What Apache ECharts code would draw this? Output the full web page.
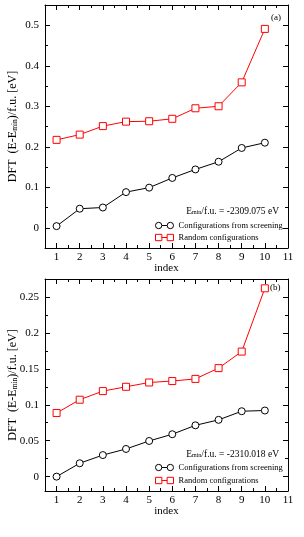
<!DOCTYPE html>
<html><head><meta charset="utf-8">
<script src="https://cdn.jsdelivr.net/npm/echarts@6/dist/echarts.min.js"></script>
<style>html,body{margin:0;padding:0;background:#fff}#c{width:304px;height:537px}</style>
</head><body><div id="c"></div>
<script>
const indexValues = [1,2,3,4,5,6,7,8,9,10];
const screeningA = [0.004,0.047,0.050,0.088,0.099,0.123,0.144,0.163,0.197,0.210];
const randomA    = [0.217,0.230,0.251,0.262,0.263,0.269,0.295,0.300,0.359,0.491];
const screeningB = [0.000,0.0186,0.030,0.0385,0.0496,0.059,0.0714,0.079,0.091,0.092];
const randomB    = [0.0886,0.107,0.119,0.125,0.131,0.133,0.136,0.151,0.174,0.262];
const xTicks = [1,2,3,4,5,6,7,8,9,10,11];
const xMinor = [1.5,2.5,3.5,4.5,5.5,6.5,7.5,8.5,9.5,10.5];
const yTicksA = [0,0.1,0.2,0.3,0.4,0.5];
const yMinorA = [-0.05,0.05,0.15,0.25,0.35,0.45,0.55];
const yTicksB = [0,0.05,0.1,0.15,0.2,0.25];
const yMinorB = [0.025,0.075,0.125,0.175,0.225,0.275];
const seriesNames = ['Configurations from screening','Random configurations'];
const eminA = '-2309.075 eV';
const eminB = '-2310.018 eV';
const FONT = 'Liberation Serif';

const chart = echarts.init(document.getElementById('c'), null, {renderer:'canvas'});
const grids = [
  {left:45, top:5, width:243, height:243, containLabel:false, outerBoundsMode:'none'},
  {left:45, top:279, width:243, height:212, containLabel:false, outerBoundsMode:'none'}
];
const xAxes = [], yAxes = [];
function addX(gi, pos, ticks, len, labels, main){
  xAxes.push({type:'value', gridIndex:gi, position:pos, min:0.5, max:11,
    axisLine:{show:main, onZero:false, lineStyle:{color:'#000',width:1}},
    splitLine:{show:false},
    axisTick:{show:true, inside:true, length:len, customValues:ticks, lineStyle:{color:'#000'}},
    axisLabel:{show:labels, customValues:ticks, color:'#000', fontFamily:FONT, fontSize:11, margin:4},
    name: labels ? 'index' : '', nameLocation:'middle', nameGap:15, nameMoveOverlap:false,
    nameTextStyle:{color:'#000', fontFamily:FONT, fontSize:11}
  });
}
function addY(gi, pos, min, max, ticks, len, labels, main, fmt){
  yAxes.push({type:'value', gridIndex:gi, position:pos, min:min, max:max,
    axisLine:{show:main, onZero:false, lineStyle:{color:'#000',width:1}},
    splitLine:{show:false},
    axisTick:{show:true, inside:true, length:len, customValues:ticks, lineStyle:{color:'#000'}},
    axisLabel:{show:labels, customValues:ticks, color:'#000', fontFamily:FONT, fontSize:11, margin:6, formatter:fmt},
    name: labels ? '{n|DFT  (E-E}{s|min}{n|)/f.u. [eV]}' : '', nameLocation:'middle', nameGap:labels ? 26 : 0, nameRotate:90,
    nameMoveOverlap:false,
    nameTextStyle:{rich:{n:{color:'#000', fontFamily:FONT, fontSize:12}, s:{color:'#000', fontFamily:FONT, fontSize:7.5, verticalAlign:'bottom', padding:[4,0,0,0]}}}
  });
}
const fmt = v => String(+v.toFixed(3));
addX(0,'bottom',xTicks,5,true,true);
addX(0,'bottom',xMinor,3,false,false);
addX(0,'top',xTicks,5,false,true);
addX(0,'top',xMinor,3,false,false);
addY(0,'left',-0.05,0.55,yTicksA,5,true,true,fmt);
addY(0,'left',-0.05,0.55,yMinorA,3,false,false);
addY(0,'right',-0.05,0.55,yTicksA,5,false,true);
addY(0,'right',-0.05,0.55,yMinorA,3,false,false);
addX(1,'bottom',xTicks,5,true,true);
addX(1,'bottom',xMinor,3,false,false);
addX(1,'top',xTicks,5,false,true);
addX(1,'top',xMinor,3,false,false);
addY(1,'left',-0.02,0.275,yTicksB,5,true,true,fmt);
addY(1,'left',-0.02,0.275,yMinorB,3,false,false);
addY(1,'right',-0.02,0.275,yTicksB,5,false,true);
addY(1,'right',-0.02,0.275,yMinorB,3,false,false);

function pairs(ys){ return indexValues.map((x,i)=>[x, ys[i]]); }
function mk(name, data, xi, yi, color, sym){
  return {type:'line', name:name, xAxisIndex:xi, yAxisIndex:yi, data:pairs(data),
    symbol:sym, symbolSize:7, showSymbol:true, animation:false,
    lineStyle:{color:color, width:1}, itemStyle:{color:'#fff', borderColor:color, borderWidth:1}};
}
const series = [
  mk(seriesNames[0], screeningA, 0, 0, '#000', 'circle'),
  mk(seriesNames[1], randomA, 0, 0, '#ff0000', 'rect'),
  mk(seriesNames[0], screeningB, 4, 4, '#000', 'circle'),
  mk(seriesNames[1], randomB, 4, 4, '#ff0000', 'rect')
];
const circIcon = 'path://M0.5,3.5 A3,3 0 1,1 6.5,3.5 A3,3 0 1,1 0.5,3.5 Z M6.5,3.5 L11.5,3.5 M11.5,3.5 A3,3 0 1,1 17.5,3.5 A3,3 0 1,1 11.5,3.5 Z';
const rectIcon = 'path://M0.5,0.5 L6.5,0.5 L6.5,6.5 L0.5,6.5 Z M6.5,3.5 L11.5,3.5 M11.5,0.5 L17.5,0.5 L17.5,6.5 L11.5,6.5 Z';
function legendFor(top, gap){
  return {orient:'vertical', left:155, top:top, padding:0, itemWidth:18, itemHeight:7, itemGap:gap, selectedMode:false,
    textStyle:{color:'#000', fontFamily:FONT, fontSize:8.5},
    data:[
      {name:seriesNames[0], icon:circIcon, itemStyle:{color:'#fff', borderColor:'#000', borderWidth:1}},
      {name:seriesNames[1], icon:rectIcon, itemStyle:{color:'#fff', borderColor:'#ff0000', borderWidth:1}}
    ]};
}
const emRich = {n:{fontFamily:FONT,fontSize:9.5,fill:'#000'}, s:{fontFamily:FONT,fontSize:6,fill:'#000',padding:[3,0,0,0]}};
chart.setOption({
  animation:false,
  grid: grids,
  xAxis: xAxes,
  yAxis: yAxes,
  series: series,
  legend: [legendFor(221, 3), legendFor(463, 4)],
  graphic: [
    {type:'text', left:271, top:13, style:{text:'(a)', font:'9px "Liberation Serif"', fill:'#000'}},
    {type:'text', left:270, top:283, style:{text:'(b)', font:'9px "Liberation Serif"', fill:'#000'}},
    {type:'text', right:25, top:206, style:{text:'{n|E}{s|min}{n|/f.u. = '+eminA+'}', rich:emRich}},
    {type:'text', right:25, top:449, style:{text:'{n|E}{s|min}{n|/f.u. = '+eminB+'}', rich:emRich}}
  ]
});
</script></body></html>
